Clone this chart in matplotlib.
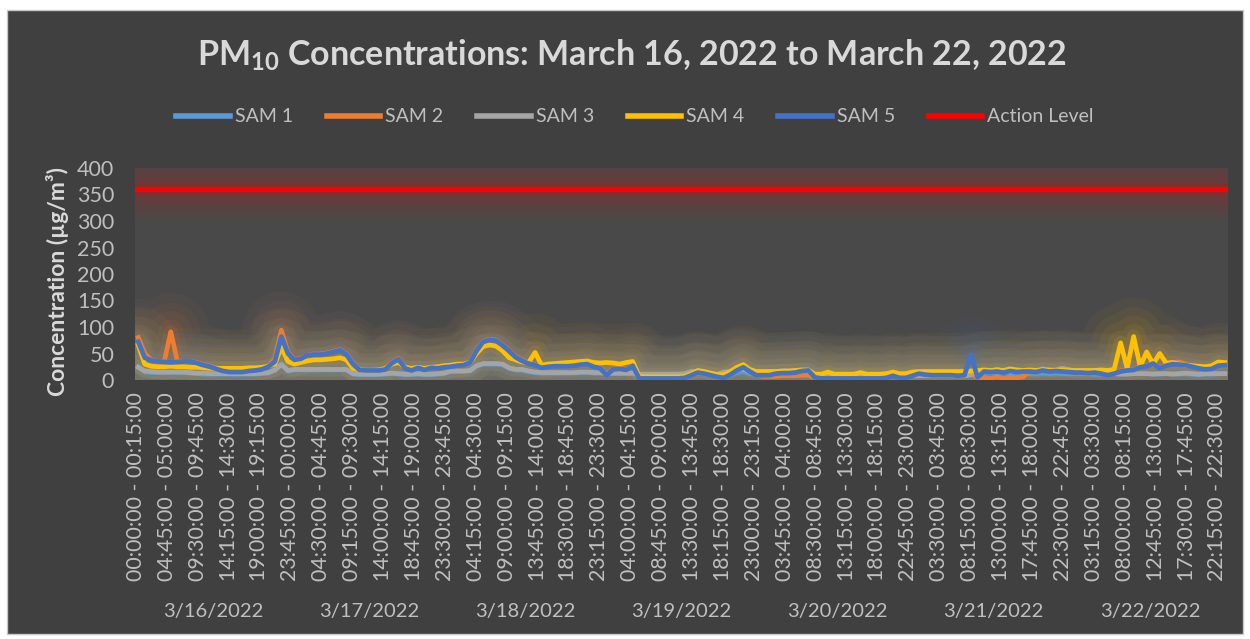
import numpy as np
import matplotlib
matplotlib.use('agg')
import matplotlib.pyplot as plt
from matplotlib.patches import Rectangle
from matplotlib.transforms import blended_transform_factory

plt.rcParams['font.family'] = ['Lato', 'DejaVu Sans']
plt.rcParams['mathtext.fontset'] = 'custom'
plt.rcParams['mathtext.rm'] = 'Lato'
plt.rcParams['mathtext.bf'] = 'Lato:bold'

#hourly readings (ug/m3), one row per day 3/16 .. 3/22
sam1 = [25, 15, 14, 14, 14, 14, 14, 14, 13, 12, 11, 11, 11, 11, 11, 11, 11, 11, 11, 12, 13, 18, 31, 17,
        19, 19, 19, 19, 19, 19, 19, 19, 19, 11, 10, 10, 10, 10, 11, 12, 11, 10, 10, 11, 10, 10, 11, 12,
        16, 16, 16, 17, 26, 30, 30, 30, 29, 22, 19, 19, 16, 14, 13, 13, 13, 13, 13, 13, 14, 14, 13, 13,
        12, 12, 12, 12, 12, 9, 9, 9, 9, 9, 9, 9, 9, 11, 13, 11, 10, 9, 9, 10, 14, 16, 12, 10,
        10, 10, 10, 10, 11, 11, 12, 12, 9, 9, 9, 9, 9, 9, 9, 9, 9, 9, 9, 9, 10, 9, 9, 10,
        10, 10, 10, 10, 10, 10, 10, 10, 10, 12, 14, 14, 13, 14, 13, 12, 13, 12, 12, 13, 12, 13, 12, 12,
        12, 12, 12, 11, 11, 11, 12, 12, 12, 12, 12, 12, 12, 11, 12, 12, 11, 12, 11, 10, 11, 11, 12, 12]

sam2 = [80, 50, 38, 35, 35, 91, 36, 35, 35, 33, 29, 26, 23, 19, 17, 17, 17, 18, 19, 21, 26, 40, 94, 52,
        39, 41, 47, 49, 49, 51, 54, 57, 49, 31, 20, 19, 19, 19, 21, 33, 40, 23, 19, 24, 20, 24, 23, 25,
        26, 28, 29, 34, 56, 73, 77, 75, 66, 56, 44, 37, 32, 29, 24, 26, 27, 27, 27, 28, 30, 31, 26, 23,
        10, 21, 22, 20, 28, 4, 4, 4, 4, 4, 4, 4, 5, 10, 15, 13, 10, 7, 5, 11, 19, 25, 17, 10,
        7, 7, 7, 8, 8, 8, 9, 9, 5, 4, 4, 4, 4, 4, 4, 4, 4, 4, 4, 5, 9, 5, 5, 9,
        13, 11, 10, 10, 10, 10, 9, 10, 12, 4, 5, 3, 6, 3, 5, 4, 6, 17, 16, 19, 17, 18, 17, 16,
        15, 15, 14, 15, 13, 10, 13, 17, 19, 20, 25, 27, 32, 23, 28, 33, 34, 30, 26, 23, 21, 22, 28, 29]

sam3 = [24, 17, 16, 15, 15, 15, 15, 15, 14, 13, 13, 12, 12, 12, 12, 12, 12, 12, 12, 13, 14, 19, 29, 18,
        20, 20, 20, 20, 20, 20, 20, 20, 20, 12, 11, 11, 11, 11, 12, 13, 12, 11, 11, 12, 11, 11, 12, 13,
        17, 17, 17, 18, 27, 31, 31, 31, 30, 23, 20, 20, 17, 15, 14, 14, 14, 14, 14, 14, 15, 15, 14, 14,
        13, 13, 13, 13, 13, 11, 11, 11, 11, 11, 11, 11, 12, 16, 15, 14, 12, 11, 15, 16, 22, 20, 16, 15,
        15, 15, 16, 17, 17, 17, 18, 18, 10, 9, 9, 9, 9, 9, 9, 9, 9, 9, 9, 9, 9, 9, 8, 8,
        8, 8, 8, 8, 8, 8, 8, 8, 10, 14, 18, 16, 20, 17, 15, 17, 15, 18, 17, 21, 18, 19, 22, 20,
        16, 15, 16, 17, 15, 14, 12, 11, 11, 12, 12, 12, 11, 12, 12, 11, 12, 13, 12, 11, 12, 12, 12, 12]

sam4 = [66, 30, 26, 25, 25, 26, 25, 25, 24, 24, 23, 22, 22, 22, 22, 22, 22, 23, 23, 24, 26, 30, 62, 35,
        30, 33, 36, 38, 38, 39, 40, 42, 38, 22, 19, 18, 18, 19, 22, 30, 33, 24, 22, 24, 22, 24, 25, 27,
        28, 30, 30, 33, 50, 63, 66, 64, 55, 42, 38, 34, 33, 52, 28, 30, 31, 32, 33, 34, 35, 36, 33, 32,
        33, 32, 30, 33, 35, 7, 6, 6, 6, 6, 6, 6, 7, 12, 18, 16, 13, 10, 10, 16, 24, 29, 20, 16,
        16, 16, 16, 17, 17, 18, 19, 19, 11, 11, 15, 11, 11, 11, 11, 14, 11, 11, 11, 12, 15, 12, 12, 15,
        16, 16, 16, 16, 16, 16, 16, 16, 17, 18, 19, 18, 19, 18, 21, 19, 18, 19, 18, 19, 19, 18, 19, 18,
        18, 18, 18, 18, 19, 18, 20, 70, 22, 82, 25, 53, 30, 50, 32, 33, 30, 28, 27, 26, 25, 27, 34, 33]

sam5 = [72, 42, 37, 35, 34, 33, 34, 35, 35, 32, 28, 25, 21, 17, 15, 15, 15, 17, 18, 20, 25, 35, 82, 50,
        38, 40, 47, 48, 48, 50, 53, 56, 48, 30, 19, 18, 18, 18, 20, 32, 39, 22, 18, 23, 19, 23, 22, 24,
        25, 27, 28, 33, 55, 72, 76, 74, 65, 55, 43, 36, 31, 28, 23, 25, 26, 26, 26, 27, 29, 30, 25, 22,
        9, 20, 21, 19, 27, 3, 3, 3, 3, 3, 3, 3, 4, 9, 14, 12, 9, 6, 4, 10, 18, 24, 16, 9,
        9, 9, 12, 13, 13, 14, 17, 18, 5, 3, 3, 3, 3, 3, 3, 3, 3, 3, 3, 4, 8, 4, 4, 8,
        12, 10, 9, 9, 9, 9, 8, 9, 48, 5, 16, 15, 16, 14, 17, 15, 16, 16, 15, 18, 16, 17, 16, 15,
        14, 14, 13, 14, 12, 9, 12, 16, 18, 19, 24, 26, 31, 22, 27, 30, 29, 28, 25, 22, 20, 21, 27, 28]

action_level = 360

series_names = ['SAM 1', 'SAM 2', 'SAM 3', 'SAM 4', 'SAM 5']
series_colors = ['#5B9BD5', '#ED7D31', '#A5A5A5', '#FFC000', '#4472C4']
days = ['3/16/2022', '3/17/2022', '3/18/2022', '3/19/2022', '3/20/2022', '3/21/2022', '3/22/2022']

#category axis: 672 fifteen minute slots, label every 19th slot
n_slots = 7 * 96
tick_slots = list(range(0, n_slots, 19))
tick_labels = []
for s in tick_slots:
	m = (s % 96) * 15
	m2 = m + 15
	tick_labels.append("%02d:%02d:00 - %02d:%02d:00" % (m // 60, m % 60, (m2 // 60) % 24, m2 % 60))

hour_x = np.arange(len(sam1)) * 4 + 1.5

fig = plt.figure(figsize=(12.5, 6.39), dpi=100, facecolor='white')
fig.patches.append(Rectangle((7 / 1250, 5 / 639), 1236 / 1250, 624 / 639, transform=fig.transFigure,
                             facecolor='#404040', edgecolor='#c8c8c8', lw=1, zorder=-10))

ax = fig.add_axes([135 / 1250, 1 - 380 / 639, 1093 / 1250, 212 / 639])
ax.set_zorder(1)
ax.set_facecolor('#494949')

#soft glow like excel, then the lines themselves
glow = [(56, 0.04), (42, 0.05), (30, 0.06), (18, 0.08), (10, 0.1)]
for vals, c in zip([sam1, sam2, sam3, sam4, sam5], series_colors):
	for lw, a in glow:
		ax.plot(hour_x, vals, color=c, lw=lw, alpha=a, solid_capstyle='round', solid_joinstyle='round')
for lw, a in glow:
	ax.axhline(action_level, color='#FF0000', lw=lw * 0.8, alpha=a * 0.9)

for vals, c, name in zip([sam1, sam2, sam3, sam4, sam5], series_colors, series_names):
	ax.plot(hour_x, vals, color=c, lw=3.4, label=name, solid_joinstyle='round')
ax.axhline(action_level, color='#FF0000', lw=3.8, label='Action Level')

ax.set_xlim(-0.5, n_slots - 0.5)
ax.set_ylim(0, 400)
ax.set_yticks(range(0, 401, 50))
ax.set_xticks(tick_slots)
ax.set_xticklabels(tick_labels, rotation=90, fontsize=15.3, color='#bfbfbf')
ax.tick_params(axis='y', labelsize=15.5, labelcolor='#bfbfbf', length=0, pad=15)
ax.tick_params(axis='x', length=0, pad=9)
for sp in ax.spines.values():
	sp.set_visible(False)

#day group labels under the time labels
trans = blended_transform_factory(ax.transData, fig.transFigure)
for d, day in enumerate(days):
	ax.text(d * 96 + 47.5, 1 - 612 / 639, day, transform=trans, ha='center', va='center',
	        fontsize=14.5, color='#bfbfbf', clip_on=False)

fig.text(58 / 1250, 1 - 281 / 639, 'Concentration (µg/m³)', rotation=90, ha='center', va='center',
         fontsize=16.5, fontweight='bold', color='#d9d9d9')

fig.text(632 / 1250, 1 - 55 / 639, r'PM$_{\mathbf{10}}$ Concentrations: March 16, 2022 to March 22, 2022',
         ha='center', va='center', fontsize=24.5, fontweight='bold', color='#d9d9d9')

leg = fig.legend(loc='center', bbox_to_anchor=(635 / 1250, 1 - 117 / 639), ncol=6, frameon=False,
                 fontsize=14, handlelength=2.75, handletextpad=0.25, columnspacing=1.75)
for t in leg.get_texts():
	t.set_color('#bfbfbf')
for h in leg.legend_handles:
	h.set_linewidth(4)

plt.savefig('out.png', dpi=100, facecolor=fig.get_facecolor())
